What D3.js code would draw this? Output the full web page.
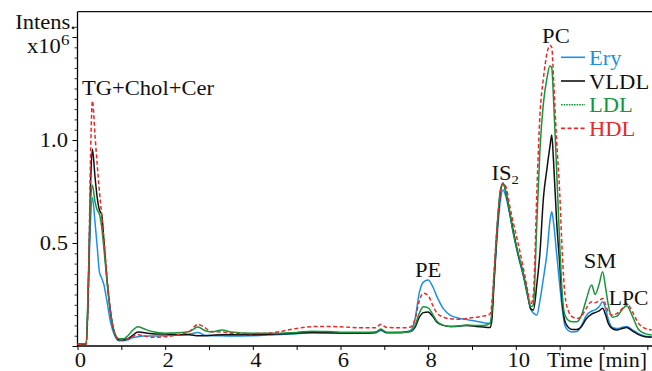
<!DOCTYPE html>
<html>
<head>
<meta charset="utf-8">
<script src="https://cdn.jsdelivr.net/npm/d3@7"></script>
<style>
  body { margin: 0; background: #fff; }
  svg { display: block; }
</style>
</head>
<body>
<div id="chart"></div>
<script>
var width = 652;
var height = 371;
var fontFamily = "'Liberation Serif', 'DejaVu Serif', 'Times New Roman', serif";

// retention time [min]
var times = [0, 0.2, 0.25, 0.3, 0.34, 0.4, 0.45, 0.5, 0.55, 0.6,
    0.67, 0.75, 0.85, 0.95, 1.05, 1.15, 1.25, 1.38, 1.5, 1.7,
    2.0, 2.3, 2.55, 2.75, 2.9, 3.05, 3.3, 3.5, 4.0, 4.5,
    5.0, 5.35, 5.7, 6.0, 6.5, 6.8, 6.92, 7.05, 7.4, 7.6,
    7.7, 7.8, 7.89, 8.0, 8.1, 8.2, 8.35, 8.5, 8.7, 8.88,
    9.1, 9.26, 9.41, 9.45, 9.5, 9.58, 9.65, 9.71, 9.78, 9.86,
    9.94, 10.05, 10.17, 10.27, 10.34, 10.4, 10.48, 10.55, 10.63, 10.71,
    10.78, 10.82, 10.86, 10.93, 11.0, 11.06, 11.12, 11.2, 11.3, 11.39,
    11.5, 11.6, 11.73, 11.81, 11.9, 11.98, 12.05, 12.11, 12.2, 12.31,
    12.42, 12.53, 12.65, 12.8, 12.95, 13.1];

// intensities x10^6
var ery = [0.008, 0.01, 0.3, 0.62, 0.72, 0.6, 0.48, 0.36, 0.33, 0.3,
    0.22, 0.12, 0.05, 0.025, 0.025, 0.03, 0.04, 0.045, 0.048, 0.048,
    0.05, 0.053, 0.058, 0.065, 0.052, 0.05, 0.05, 0.048, 0.05, 0.055,
    0.06, 0.064, 0.064, 0.062, 0.062, 0.064, 0.075, 0.064, 0.066, 0.075,
    0.13, 0.26, 0.31, 0.32, 0.29, 0.24, 0.18, 0.15, 0.135, 0.129,
    0.12, 0.113, 0.11, 0.14, 0.3, 0.55, 0.71, 0.757, 0.72, 0.64,
    0.55, 0.44, 0.34, 0.24, 0.18, 0.16, 0.15, 0.22, 0.33, 0.45,
    0.61, 0.652, 0.6, 0.45, 0.3, 0.18, 0.1, 0.075, 0.068, 0.07,
    0.1, 0.145, 0.17, 0.175, 0.19, 0.215, 0.18, 0.13, 0.09, 0.085,
    0.09, 0.095, 0.08, 0.06, 0.048, 0.045];

var vldl = [0.008, 0.01, 0.3, 0.8, 0.955, 0.82, 0.72, 0.66, 0.64, 0.52,
    0.33, 0.17, 0.06, 0.03, 0.03, 0.035, 0.05, 0.068, 0.065, 0.06,
    0.058, 0.055, 0.055, 0.05, 0.05, 0.052, 0.055, 0.055, 0.055, 0.058,
    0.062, 0.066, 0.064, 0.063, 0.063, 0.066, 0.08, 0.065, 0.066, 0.07,
    0.09, 0.14, 0.162, 0.165, 0.145, 0.115, 0.1, 0.095, 0.096, 0.1,
    0.095, 0.092, 0.09, 0.12, 0.3, 0.58, 0.75, 0.79, 0.74, 0.65,
    0.56, 0.45, 0.35, 0.25, 0.18, 0.175, 0.3, 0.45, 0.72, 0.86,
    0.97, 1.024, 0.9, 0.61, 0.4, 0.21, 0.12, 0.09, 0.08, 0.08,
    0.095, 0.13, 0.155, 0.162, 0.17, 0.183, 0.15, 0.11, 0.085, 0.078,
    0.085, 0.09, 0.075, 0.055, 0.045, 0.042];

var ldl = [0.008, 0.012, 0.35, 0.7, 0.78, 0.7, 0.66, 0.64, 0.58, 0.48,
    0.32, 0.17, 0.06, 0.035, 0.035, 0.05, 0.075, 0.094, 0.085, 0.07,
    0.062, 0.064, 0.07, 0.092, 0.075, 0.068, 0.078, 0.068, 0.062, 0.062,
    0.066, 0.072, 0.07, 0.067, 0.067, 0.068, 0.082, 0.066, 0.066, 0.072,
    0.1, 0.16, 0.19, 0.185, 0.155, 0.12, 0.1, 0.095, 0.097, 0.102,
    0.1, 0.1, 0.11, 0.16, 0.33, 0.6, 0.76, 0.79, 0.74, 0.65,
    0.55, 0.45, 0.35, 0.25, 0.19, 0.2, 0.6, 0.95, 1.18, 1.3,
    1.36, 1.35, 1.2, 0.86, 0.5, 0.25, 0.15, 0.125, 0.118, 0.118,
    0.15, 0.22, 0.296, 0.25, 0.3, 0.36, 0.28, 0.2, 0.14, 0.145,
    0.175, 0.196, 0.15, 0.08, 0.06, 0.053];

var hdl = [0.008, 0.01, 0.3, 0.95, 1.19, 1.02, 0.88, 0.75, 0.64, 0.52,
    0.34, 0.17, 0.06, 0.03, 0.03, 0.035, 0.045, 0.055, 0.05, 0.042,
    0.045, 0.055, 0.07, 0.105, 0.09, 0.07, 0.068, 0.062, 0.06, 0.066,
    0.085, 0.094, 0.095, 0.093, 0.088, 0.088, 0.105, 0.09, 0.088, 0.092,
    0.13, 0.22, 0.256, 0.245, 0.2, 0.16, 0.14, 0.132, 0.13, 0.134,
    0.14, 0.145, 0.155, 0.2, 0.35, 0.6, 0.75, 0.79, 0.77, 0.68,
    0.6, 0.5, 0.38, 0.27, 0.2, 0.25, 0.75, 1.12, 1.3, 1.42,
    1.46, 1.45, 1.3, 1.0, 0.75, 0.45, 0.25, 0.17, 0.14, 0.134,
    0.145, 0.18, 0.215, 0.21, 0.22, 0.231, 0.2, 0.165, 0.15, 0.158,
    0.18, 0.207, 0.17, 0.11, 0.085, 0.078];

var seriesNames = ["Ery", "VLDL", "LDL", "HDL"];
var xTickLabels = ["0", "2", "4", "6", "8", "10"];
var yTickLabels = ["0.5", "1.0"];
var peakLabels = [
    {text: "TG+Chol+Cer", t: 0.1, v: 1.22},
    {text: "PE", t: 7.7, v: 0.335},
    {text: "PC", t: 10.6, v: 1.47},
    {text: "SM", t: 11.55, v: 0.38},
    {text: "LPC", t: 12.12, v: 0.2}
];

var colors = {"Ery": "#1e8fe6", "VLDL": "#111111", "LDL": "#16953a", "HDL": "#e62a2a"};
var dashes = {"Ery": null, "VLDL": null, "LDL": null, "HDL": "4,2.5"};
var legendDashes = {"Ery": null, "VLDL": null, "LDL": "1.6,1", "HDL": "4,2.5"};
var values = {"Ery": ery, "VLDL": vldl, "LDL": ldl, "HDL": hdl};

var svg = d3.select("#chart")
    .append("svg")
    .attr("width", width)
    .attr("height", height);

var xScale = d3.scaleLinear()
    .domain([0, 13.1])
    .range([77.5, 651.7]);
var yScale = d3.scaleLinear()
    .domain([0, 1.62])
    .range([346, 12.3]);

// text in the figure is a bit wider than plain Times
function addText(x, y, str, anchor, color, size, sx) {
    var g = svg.append("g")
        .attr("transform", "translate(" + x + "," + y + ") scale(" + (sx || 1.13) + ",1)");
    return g.append("text")
        .attr("text-anchor", anchor || "start")
        .attr("fill", color || "#111")
        .attr("font-family", fontFamily)
        .attr("font-size", (size || 20) + "px")
        .text(str);
}

// frame: left axis, top line, bottom axis
svg.append("line")
    .attr("x1", 77.5).attr("x2", 652)
    .attr("y1", 11.7).attr("y2", 11.7)
    .attr("stroke", "#111").attr("stroke-width", 1.3);

var xAxis = d3.axisBottom(xScale)
    .tickValues(d3.range(0, 14, 1))
    .tickSize(4)
    .tickFormat("");
svg.append("g")
    .attr("class", "axis")
    .attr("transform", "translate(0,346)")
    .call(xAxis)
    .call(function (g) {
        g.select(".domain").attr("d", "M77.5,0H652").attr("stroke-width", 1.3);
        g.selectAll(".tick line").attr("stroke-width", 1);
    });

var yAxis = d3.axisLeft(yScale)
    .tickValues(d3.range(0, 1.6, 0.05))
    .tickSize(3)
    .tickFormat("");
svg.append("g")
    .attr("class", "axis")
    .attr("transform", "translate(77.5,0)")
    .call(yAxis)
    .call(function (g) {
        g.select(".domain").attr("d", "M0,11.7V346").attr("stroke-width", 1.3);
        g.selectAll(".tick line").attr("stroke-width", 0.8);
    });

svg.append("g")
    .attr("transform", "translate(77.5,0)")
    .call(d3.axisLeft(yScale).tickValues([0, 0.5, 1.0, 1.5]).tickSize(5).tickFormat(""))
    .call(function (g) { g.select(".domain").remove(); });

// tick labels
xTickLabels.forEach(function (l) {
    addText(xScale(+l) + 3, 366.5, l, "middle");
});
yTickLabels.forEach(function (l) {
    addText(68, yScale(+l) + 7, l, "end");
});
addText(547, 366.5, "Time [min]", "start", null, 20, 1.1);

addText(76, 28.5, "Intens.", "end");
var expo = addText(27, 53.3, "x10", "start");
expo.append("tspan").attr("dy", -8).attr("font-size", "15px").text("6");

// traces
var line = d3.line()
    .curve(d3.curveMonotoneX)
    .x(function (d) { return xScale(d[0]); })
    .y(function (d) { return yScale(d[1]); });

seriesNames.forEach(function (name) {
    var pts = times.map(function (t, i) { return [t, values[name][i]]; });
    svg.append("path")
        .datum(pts)
        .attr("d", line)
        .attr("fill", "none")
        .attr("stroke", colors[name])
        .attr("stroke-width", 1.5)
        .attr("stroke-dasharray", dashes[name]);
});

// peak labels
peakLabels.forEach(function (p) {
    addText(xScale(p.t), yScale(p.v), p.text, "start", null, 20, p.text === "LPC" ? 1.08 : 1.13);
});
var is2 = addText(491.5, 180, "IS", "start");
is2.append("tspan").attr("dy", 4).attr("font-size", "13px").text("2");

// legend
seriesNames.forEach(function (name, i) {
    var y = 57.3 + i * 23.7;
    svg.append("line")
        .attr("x1", 561).attr("x2", 585)
        .attr("y1", y).attr("y2", y)
        .attr("stroke", colors[name])
        .attr("stroke-width", 1.6)
        .attr("stroke-dasharray", legendDashes[name]);
    addText(589, y + 7.5, name, "start", colors[name]);
});
</script>
</body>
</html>
